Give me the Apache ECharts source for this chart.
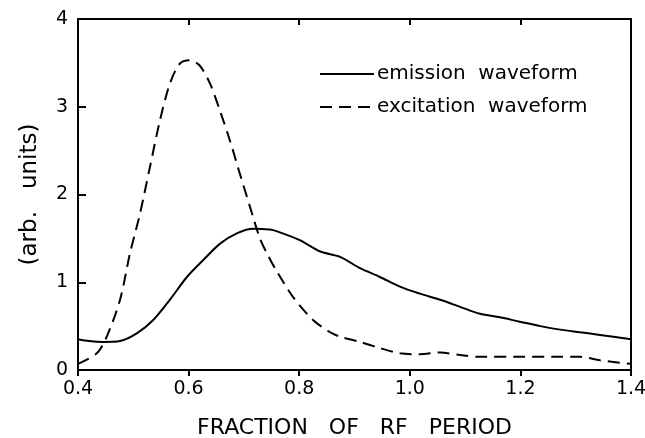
<!DOCTYPE html>
<html>
<head>
<meta charset="utf-8">
<script src="https://cdn.jsdelivr.net/npm/echarts@6/dist/echarts.min.js"></script>
<style>
  html, body { margin: 0; padding: 0; background: #fff; }
  #chart { width: 645px; height: 438px; }
</style>
</head>
<body>
<div id="chart"></div>
<script>
// values
const emissionX = [0.40, 0.42, 0.445, 0.476, 0.507, 0.536, 0.566, 0.597, 0.626, 0.657, 0.688, 0.717, 0.747, 0.76, 0.801, 0.838, 0.874, 0.91, 0.946, 0.982, 1.018, 1.055, 1.091, 1.127, 1.163, 1.199, 1.236, 1.272, 1.308, 1.344, 1.40];
const emissionY = [0.35, 0.33, 0.32, 0.33, 0.42, 0.57, 0.80, 1.06, 1.25, 1.44, 1.56, 1.61, 1.60, 1.58, 1.48, 1.35, 1.29, 1.16, 1.06, 0.95, 0.87, 0.80, 0.72, 0.64, 0.60, 0.55, 0.50, 0.46, 0.43, 0.40, 0.35];

const excitationX = [0.40, 0.434, 0.452, 0.476, 0.494, 0.512, 0.530, 0.548, 0.566, 0.584, 0.602, 0.620, 0.639, 0.657, 0.675, 0.693, 0.711, 0.729, 0.744, 0.76, 0.789, 0.825, 0.856, 0.874, 0.91, 0.946, 0.982, 1.018, 1.055, 1.091, 1.127, 1.20, 1.27, 1.308, 1.344, 1.40];
const excitationY = [0.07, 0.19, 0.38, 0.80, 1.33, 1.78, 2.31, 2.84, 3.26, 3.49, 3.53, 3.47, 3.26, 2.95, 2.61, 2.23, 1.86, 1.50, 1.30, 1.12, 0.83, 0.57, 0.43, 0.38, 0.32, 0.25, 0.19, 0.18, 0.20, 0.17, 0.15, 0.15, 0.15, 0.15, 0.11, 0.07];

const seriesNames = ['emission  waveform', 'excitation  waveform'];
const xTicks = [0.4, 0.6, 0.8, 1.0, 1.2, 1.4];

const toPairs = (xs, ys) => xs.map((x, i) => [x, ys[i]]);

const font = 'DejaVu Sans';
const ink = '#000';

const chart = echarts.init(document.getElementById('chart'), null, { renderer: 'canvas' });

chart.setOption({
    animation: false,
    backgroundColor: '#fff',
    grid: { left: 78, right: 14, top: 19, bottom: 68, outerBoundsMode: 'none', containLabel: false },
    legend: {
        orient: 'vertical',
        left: 314,
        top: 59,
        itemWidth: 54,
        itemHeight: 14,
        itemGap: 13,
        itemStyle: { opacity: 0 },
        textStyle: { fontFamily: font, fontSize: 20, color: ink, padding: [0, 0, 0, -2] },
        data: seriesNames
    },
    xAxis: [{
        type: 'value',
        min: 0.4, max: 1.4, interval: 0.2,
        position: 'bottom',
        name: 'FRACTION   OF   RF   PERIOD',
        nameLocation: 'middle',
        nameGap: 47,
        nameTextStyle: { fontFamily: font, fontSize: 22, color: ink },
        axisLine: { show: true, onZero: false, lineStyle: { color: ink, width: 2 } },
        axisTick: { show: true, inside: false, length: 6, lineStyle: { color: ink, width: 2 } },
        axisLabel: {
            fontFamily: font, fontSize: 19, color: ink, margin: 10,
            formatter: v => xTicks.find(t => Math.abs(t - v) < 1e-6).toFixed(1)
        },
        splitLine: { show: false }
    }, {
        type: 'value',
        min: 0.4, max: 1.4, interval: 0.2,
        position: 'top',
        axisLine: { show: true, onZero: false, lineStyle: { color: ink, width: 2 } },
        axisTick: { show: true, inside: true, length: 6, lineStyle: { color: ink, width: 2 } },
        axisLabel: { show: false },
        splitLine: { show: false }
    }],
    yAxis: [{
        type: 'value',
        min: 0, max: 4, interval: 1,
        position: 'left',
        name: '(arb.   units)',
        nameLocation: 'middle',
        nameGap: 36,
        nameTextStyle: { fontFamily: font, fontSize: 23, color: ink },
        axisLine: { show: true, onZero: false, lineStyle: { color: ink, width: 2 } },
        axisTick: { show: true, inside: true, length: 8, lineStyle: { color: ink, width: 2 } },
        axisLabel: { fontFamily: font, fontSize: 19, color: ink, margin: 10 },
        splitLine: { show: false }
    }, {
        type: 'value',
        min: 0, max: 4, interval: 1,
        position: 'right',
        axisLine: { show: true, onZero: false, lineStyle: { color: ink, width: 2 } },
        axisTick: { show: false },
        axisLabel: { show: false },
        splitLine: { show: false }
    }],
    series: [{
        name: seriesNames[0],
        type: 'line',
        data: toPairs(emissionX, emissionY),
        smooth: 0.3,
        symbol: 'none',
        lineStyle: { color: ink, width: 2 },
        itemStyle: { color: ink }
    }, {
        name: seriesNames[1],
        type: 'line',
        data: toPairs(excitationX, excitationY),
        smooth: 0.3,
        symbol: 'none',
        lineStyle: { color: ink, width: 2, type: [12, 7] },
        itemStyle: { color: ink }
    }]
});
</script>
</body>
</html>
